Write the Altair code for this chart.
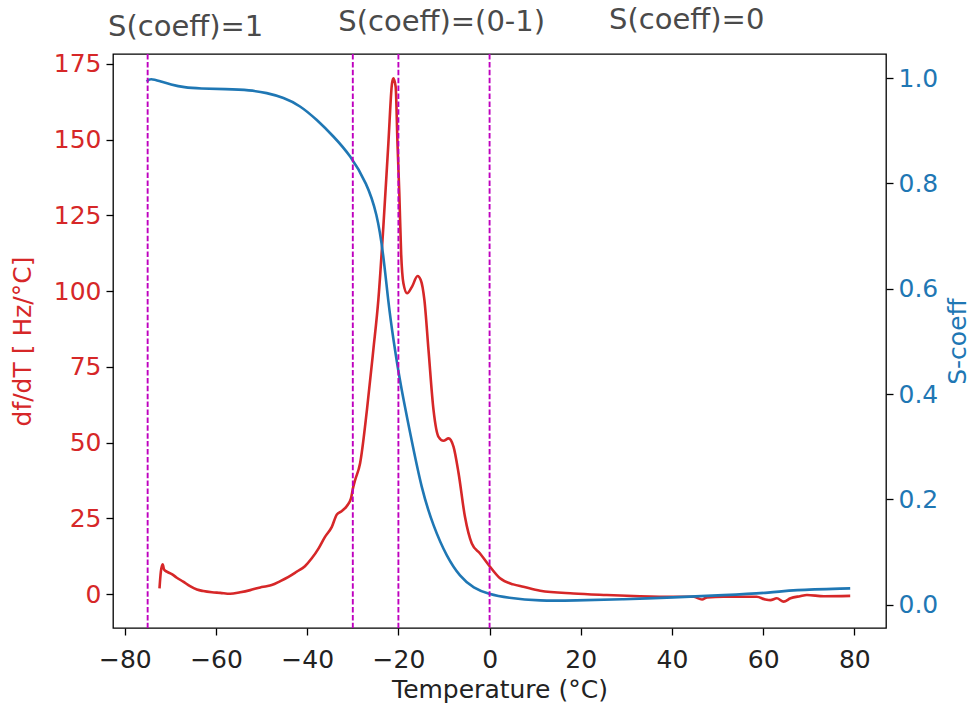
import altair as alt
import pandas as pd

# df/dT trace (red, left axis)
temp_red = [-72.4, -72.1, -71.7, -71.4, -70.8, -69.7, -68.6, -67.2, -65.7, -64.2,
            -62.8, -60.9, -59.1, -56.9, -54.7, -52.5, -50.3, -48.9, -47.8, -45.9,
            -44.1, -42.3, -40.5, -39.0, -37.5, -36.1, -34.6, -33.5, -32.4, -31.3,
            -30.4, -29.9, -29.5, -28.4, -26.9, -25.5, -24.4, -23.3, -22.2, -21.4,
            -21.1, -20.6, -20.2, -19.8, -19.4, -18.9, -18.1, -17.0, -15.8, -15.1,
            -14.3, -13.4, -12.3, -11.2, -10.1, -9.0, -7.9, -6.8, -5.4, -3.9,
            -2.1, -0.2, 2.3, 5.2, 7.4, 11.1, 18.4, 25.7, 33.0, 40.3,
            44.7, 46.6, 47.7, 51.3, 58.6, 60.5, 61.6, 63.0, 64.5, 66.0,
            68.1, 69.6, 73.3, 79.1]
dfdt = [1.9, 7.4, 9.8, 8.1, 7.4, 6.6, 5.4, 4.1, 2.6, 1.5,
        1.0, 0.6, 0.4, 0.1, 0.6, 1.3, 2.2, 2.6, 3.0, 4.3,
        5.7, 7.4, 9.2, 11.8, 15.1, 18.9, 22.2, 26.3, 27.4, 29.1,
        31.6, 35.4, 37.6, 43.2, 60.8, 80.6, 97.1, 121.3, 148.8, 168.6,
        170.3, 167.5, 148.8, 132.3, 112.5, 102.6, 99.3, 101.5, 105.0, 103.7,
        97.1, 80.6, 60.8, 51.9, 50.6, 51.4, 48.6, 39.9, 25.5, 16.7,
        13.4, 9.6, 5.2, 3.2, 2.4, 1.1, 0.2, -0.3, -0.7, -0.9,
        -0.9, -1.8, -1.1, -0.9, -0.9, -1.8, -2.0, -1.4, -2.5, -1.4,
        -0.7, -0.3, -0.7, -0.6]

# S-coefficient trace (blue, right axis)
temp_blue = [-75.2, -74.5, -72.0, -70.0, -67.0, -63.5, -58.0, -52.5, -48.9, -45.2,
             -41.6, -37.9, -34.2, -30.6, -26.9, -24.7, -23.3, -22.2, -21.1, -19.6,
             -17.4, -14.9, -12.3, -9.4, -6.5, -3.5, -0.2, 3.8, 11.1, 18.4,
             29.4, 40.3, 51.3, 62.3, 66.0, 79.1]
s_coeff = [0.993, 1.000, 0.993, 0.988, 0.982, 0.980, 0.979, 0.977, 0.972, 0.963,
           0.948, 0.921, 0.889, 0.854, 0.800, 0.743, 0.667, 0.572, 0.503, 0.420,
           0.325, 0.218, 0.148, 0.091, 0.053, 0.031, 0.020, 0.013, 0.007, 0.008,
           0.010, 0.014, 0.018, 0.023, 0.028, 0.031]

# Region boundaries and their labels
boundary_temps = [-75, -30, -20, 0]
region_labels = ["S(coeff)=1", "S(coeff)=(0-1)", "S(coeff)=0"]
region_label_temp = [-83.7, -33.2, 26.2]
region_label_level = [187.2, 188.9, 189.5]

RED = "#d62728"
BLUE = "#1f77b4"
FONT = "DejaVu Sans"

red_df = pd.DataFrame({"T": temp_red, "dfdt": dfdt})
blue_df = pd.DataFrame({"T": temp_blue, "S": s_coeff})
rule_df = pd.DataFrame({"T": boundary_temps})
note_df = pd.DataFrame({"T": region_label_temp, "level": region_label_level,
                        "label": region_labels})

x_scale = alt.Scale(domain=[-82.6, 86.95], nice=False, zero=False)
left_scale = alt.Scale(domain=[-11.2, 178.3], nice=False, zero=False)
right_scale = alt.Scale(domain=[-0.0442, 1.0456], nice=False, zero=False)

# one shared x definition so every layer merges into the same bottom axis
x_axis = alt.Axis(values=[-80, -60, -40, -20, 0, 20, 40, 60, 80],
                  title="Temperature (°C)", labelColor="#222222",
                  titleColor="#222222", labelPadding=12, titlePadding=5)
x_enc = alt.X("T:Q", scale=x_scale, axis=x_axis)

red_line = alt.Chart(red_df).mark_line(
    color=RED, strokeWidth=2.6, interpolate="monotone"
).encode(
    x=x_enc,
    y=alt.Y("dfdt:Q", scale=left_scale,
            axis=alt.Axis(values=[0, 25, 50, 75, 100, 125, 150, 175],
                          title="df/dT [ Hz/°C]", labelColor=RED,
                          titleColor=RED, titlePadding=18)),
)

blue_line = alt.Chart(blue_df).mark_line(
    color=BLUE, strokeWidth=2.6, interpolate="basis"
).encode(
    x=x_enc,
    y=alt.Y("S:Q", scale=right_scale,
            axis=alt.Axis(orient="right", values=[0, 0.2, 0.4, 0.6, 0.8, 1.0],
                          format=".1f", title="S-coeff", labelColor=BLUE,
                          titleColor=BLUE, titleAngle=270, titleBaseline="top",
                          titlePadding=8)),
)

rules = alt.Chart(rule_df).mark_rule(
    color="#bf00bf", strokeDash=[5.5, 2.4], strokeWidth=1.9
).encode(x=x_enc)

notes = alt.Chart(note_df).mark_text(
    align="left", baseline="middle", fontSize=29, font=FONT, color="#4a4a4a"
).encode(
    x=x_enc,
    y=alt.Y("level:Q", scale=left_scale, axis=None),
    text="label:N",
)

chart = alt.layer(red_line, blue_line, rules, notes).resolve_scale(
    y="independent"
).properties(
    width=773, height=574,
    autosize=alt.AutoSizeParams(type="none"),
    padding={"left": 113, "top": 54, "right": 85, "bottom": 76},
).configure_view(
    stroke="#000000", strokeWidth=1.3
).configure_axis(
    grid=False, domain=False, tickColor="#000000", tickSize=7, tickWidth=1.3,
    labelFont=FONT, titleFont=FONT, labelFontSize=25, titleFontSize=25,
    titleFontWeight="normal", labelPadding=5,
)

chart.save("out.html", embed_options={"renderer": "svg", "actions": False})
